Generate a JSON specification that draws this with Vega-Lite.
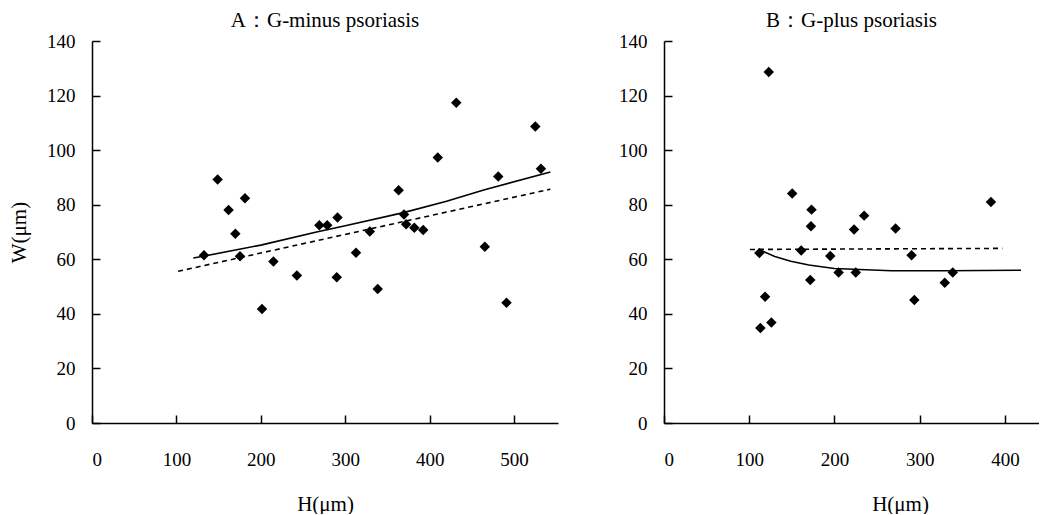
{
  "$schema": "https://vega.github.io/schema/vega-lite/v6.json",
  "padding": {"left": 8, "top": 10, "right": 0, "bottom": 0},
  "background": "white",
  "config": {
    "view": {"stroke": null},
    "font": "Liberation Serif",
    "title": {"font": "Liberation Serif", "fontSize": 21, "fontWeight": "normal", "color": "black", "offset": 1},
    "axis": {
      "grid": false,
      "domainColor": "black",
      "domainWidth": 1.5,
      "tickColor": "black",
      "tickWidth": 1.5,
      "tickSize": -8,
      "labelFont": "Liberation Serif",
      "labelFontSize": 19,
      "labelColor": "black",
      "titleFont": "Liberation Serif",
      "titleFontSize": 21,
      "titleFontWeight": "normal",
      "titleColor": "black"
    },
    "axisX": {"labelPadding": 35, "titlePadding": 24},
    "axisY": {"labelPadding": 25, "titlePadding": 17}
  },
  "datasets": {
    "all": [
      {"panel": "A", "kind": "point", "H": 132.7, "W": 61.5},
      {"panel": "A", "kind": "point", "H": 148.8, "W": 89.2},
      {"panel": "A", "kind": "point", "H": 161.8, "W": 78.1},
      {"panel": "A", "kind": "point", "H": 169.8, "W": 69.4},
      {"panel": "A", "kind": "point", "H": 175.3, "W": 61.1},
      {"panel": "A", "kind": "point", "H": 181.2, "W": 82.4},
      {"panel": "A", "kind": "point", "H": 201.4, "W": 41.8},
      {"panel": "A", "kind": "point", "H": 214.9, "W": 59.2},
      {"panel": "A", "kind": "point", "H": 242.7, "W": 54.1},
      {"panel": "A", "kind": "point", "H": 269.3, "W": 72.5},
      {"panel": "A", "kind": "point", "H": 278.6, "W": 72.5},
      {"panel": "A", "kind": "point", "H": 290.8, "W": 75.3},
      {"panel": "A", "kind": "point", "H": 289.9, "W": 53.4},
      {"panel": "A", "kind": "point", "H": 312.7, "W": 62.4},
      {"panel": "A", "kind": "point", "H": 329.1, "W": 70.2},
      {"panel": "A", "kind": "point", "H": 338.4, "W": 49.1},
      {"panel": "A", "kind": "point", "H": 363.2, "W": 85.3},
      {"panel": "A", "kind": "point", "H": 369.6, "W": 76.4},
      {"panel": "A", "kind": "point", "H": 372.1, "W": 72.8},
      {"panel": "A", "kind": "point", "H": 381.8, "W": 71.6},
      {"panel": "A", "kind": "point", "H": 392.3, "W": 70.7},
      {"panel": "A", "kind": "point", "H": 409.6, "W": 97.3},
      {"panel": "A", "kind": "point", "H": 431.5, "W": 117.4},
      {"panel": "A", "kind": "point", "H": 465.3, "W": 64.6},
      {"panel": "A", "kind": "point", "H": 481.2, "W": 90.3},
      {"panel": "A", "kind": "point", "H": 491.0, "W": 44.1},
      {"panel": "A", "kind": "point", "H": 525.1, "W": 108.7},
      {"panel": "A", "kind": "point", "H": 531.8, "W": 93.2},
      {"panel": "A", "kind": "solid", "H": 120, "W": 60.5},
      {"panel": "A", "kind": "solid", "H": 130, "W": 61.0},
      {"panel": "A", "kind": "solid", "H": 200, "W": 65.2},
      {"panel": "A", "kind": "solid", "H": 266, "W": 70.0},
      {"panel": "A", "kind": "solid", "H": 300, "W": 72.3},
      {"panel": "A", "kind": "solid", "H": 369, "W": 77.1},
      {"panel": "A", "kind": "solid", "H": 420, "W": 81.3},
      {"panel": "A", "kind": "solid", "H": 464, "W": 85.4},
      {"panel": "A", "kind": "solid", "H": 543, "W": 92.0},
      {"panel": "A", "kind": "dashed", "H": 102, "W": 55.6},
      {"panel": "A", "kind": "dashed", "H": 543, "W": 85.7},
      {"panel": "B", "kind": "point", "H": 111.9, "W": 62.3},
      {"panel": "B", "kind": "point", "H": 113.1, "W": 34.8},
      {"panel": "B", "kind": "point", "H": 118.6, "W": 46.3},
      {"panel": "B", "kind": "point", "H": 122.9, "W": 128.6},
      {"panel": "B", "kind": "point", "H": 126.0, "W": 36.8},
      {"panel": "B", "kind": "point", "H": 150.4, "W": 84.1},
      {"panel": "B", "kind": "point", "H": 161.0, "W": 63.2},
      {"panel": "B", "kind": "point", "H": 171.6, "W": 52.4},
      {"panel": "B", "kind": "point", "H": 172.4, "W": 72.1},
      {"panel": "B", "kind": "point", "H": 173.1, "W": 78.2},
      {"panel": "B", "kind": "point", "H": 195.1, "W": 61.2},
      {"panel": "B", "kind": "point", "H": 204.9, "W": 55.2},
      {"panel": "B", "kind": "point", "H": 223.0, "W": 70.9},
      {"panel": "B", "kind": "point", "H": 225.0, "W": 55.2},
      {"panel": "B", "kind": "point", "H": 234.8, "W": 76.0},
      {"panel": "B", "kind": "point", "H": 271.7, "W": 71.3},
      {"panel": "B", "kind": "point", "H": 290.5, "W": 61.5},
      {"panel": "B", "kind": "point", "H": 293.7, "W": 45.1},
      {"panel": "B", "kind": "point", "H": 329.4, "W": 51.4},
      {"panel": "B", "kind": "point", "H": 338.8, "W": 55.2},
      {"panel": "B", "kind": "point", "H": 383.6, "W": 81.0},
      {"panel": "B", "kind": "solid", "H": 113.5, "W": 63.3},
      {"panel": "B", "kind": "solid", "H": 130, "W": 61.0},
      {"panel": "B", "kind": "solid", "H": 148.8, "W": 59.3},
      {"panel": "B", "kind": "solid", "H": 170, "W": 57.9},
      {"panel": "B", "kind": "solid", "H": 199.8, "W": 56.6},
      {"panel": "B", "kind": "solid", "H": 266.6, "W": 55.8},
      {"panel": "B", "kind": "solid", "H": 330, "W": 55.8},
      {"panel": "B", "kind": "solid", "H": 418.9, "W": 56.0},
      {"panel": "B", "kind": "dashed", "H": 100.9, "W": 63.6},
      {"panel": "B", "kind": "dashed", "H": 397, "W": 64.0}
    ]
  },
  "data": {"name": "all"},
  "spacing": 60,
  "resolve": {"scale": {"x": "independent", "y": "independent"}},
  "hconcat": [
    {
      "width": 466,
      "height": 382,
      "title": {"text": "A：G-minus psoriasis"},
      "transform": [{"filter": "datum.panel === 'A'"}],
      "encoding": {
        "x": {"field": "H", "type": "quantitative", "scale": {"domain": [0, 552], "nice": false},
              "axis": {"title": "H(μm)", "values": [0, 100, 200, 300, 400, 500]}},
        "y": {"field": "W", "type": "quantitative", "scale": {"domain": [0, 140], "nice": false},
              "axis": {"title": "W(μm)", "values": [0, 20, 40, 60, 80, 100, 120, 140]}}
      },
      "layer": [
        {"transform": [{"filter": "datum.kind === 'solid'"}],
         "mark": {"type": "line", "color": "black", "strokeWidth": 1.6}},
        {"transform": [{"filter": "datum.kind === 'dashed'"}],
         "mark": {"type": "line", "color": "black", "strokeWidth": 1.6, "strokeDash": [5, 4]}},
        {"transform": [{"filter": "datum.kind === 'point'"}],
         "mark": {"type": "point", "shape": "diamond", "filled": true, "color": "black", "size": 110, "opacity": 1}}
      ]
    },
    {
      "width": 375,
      "height": 382,
      "title": {"text": "B：G-plus psoriasis"},
      "transform": [{"filter": "datum.panel === 'B'"}],
      "encoding": {
        "x": {"field": "H", "type": "quantitative", "scale": {"domain": [0, 440], "nice": false},
              "axis": {"title": "H(μm)", "titleX": 236, "values": [0, 100, 200, 300, 400]}},
        "y": {"field": "W", "type": "quantitative", "scale": {"domain": [0, 140], "nice": false},
              "axis": {"title": null, "values": [0, 20, 40, 60, 80, 100, 120, 140]}}
      },
      "layer": [
        {"transform": [{"filter": "datum.kind === 'solid'"}],
         "mark": {"type": "line", "color": "black", "strokeWidth": 1.6}},
        {"transform": [{"filter": "datum.kind === 'dashed'"}],
         "mark": {"type": "line", "color": "black", "strokeWidth": 1.6, "strokeDash": [5, 4]}},
        {"transform": [{"filter": "datum.kind === 'point'"}],
         "mark": {"type": "point", "shape": "diamond", "filled": true, "color": "black", "size": 110, "opacity": 1}}
      ]
    }
  ]
}
